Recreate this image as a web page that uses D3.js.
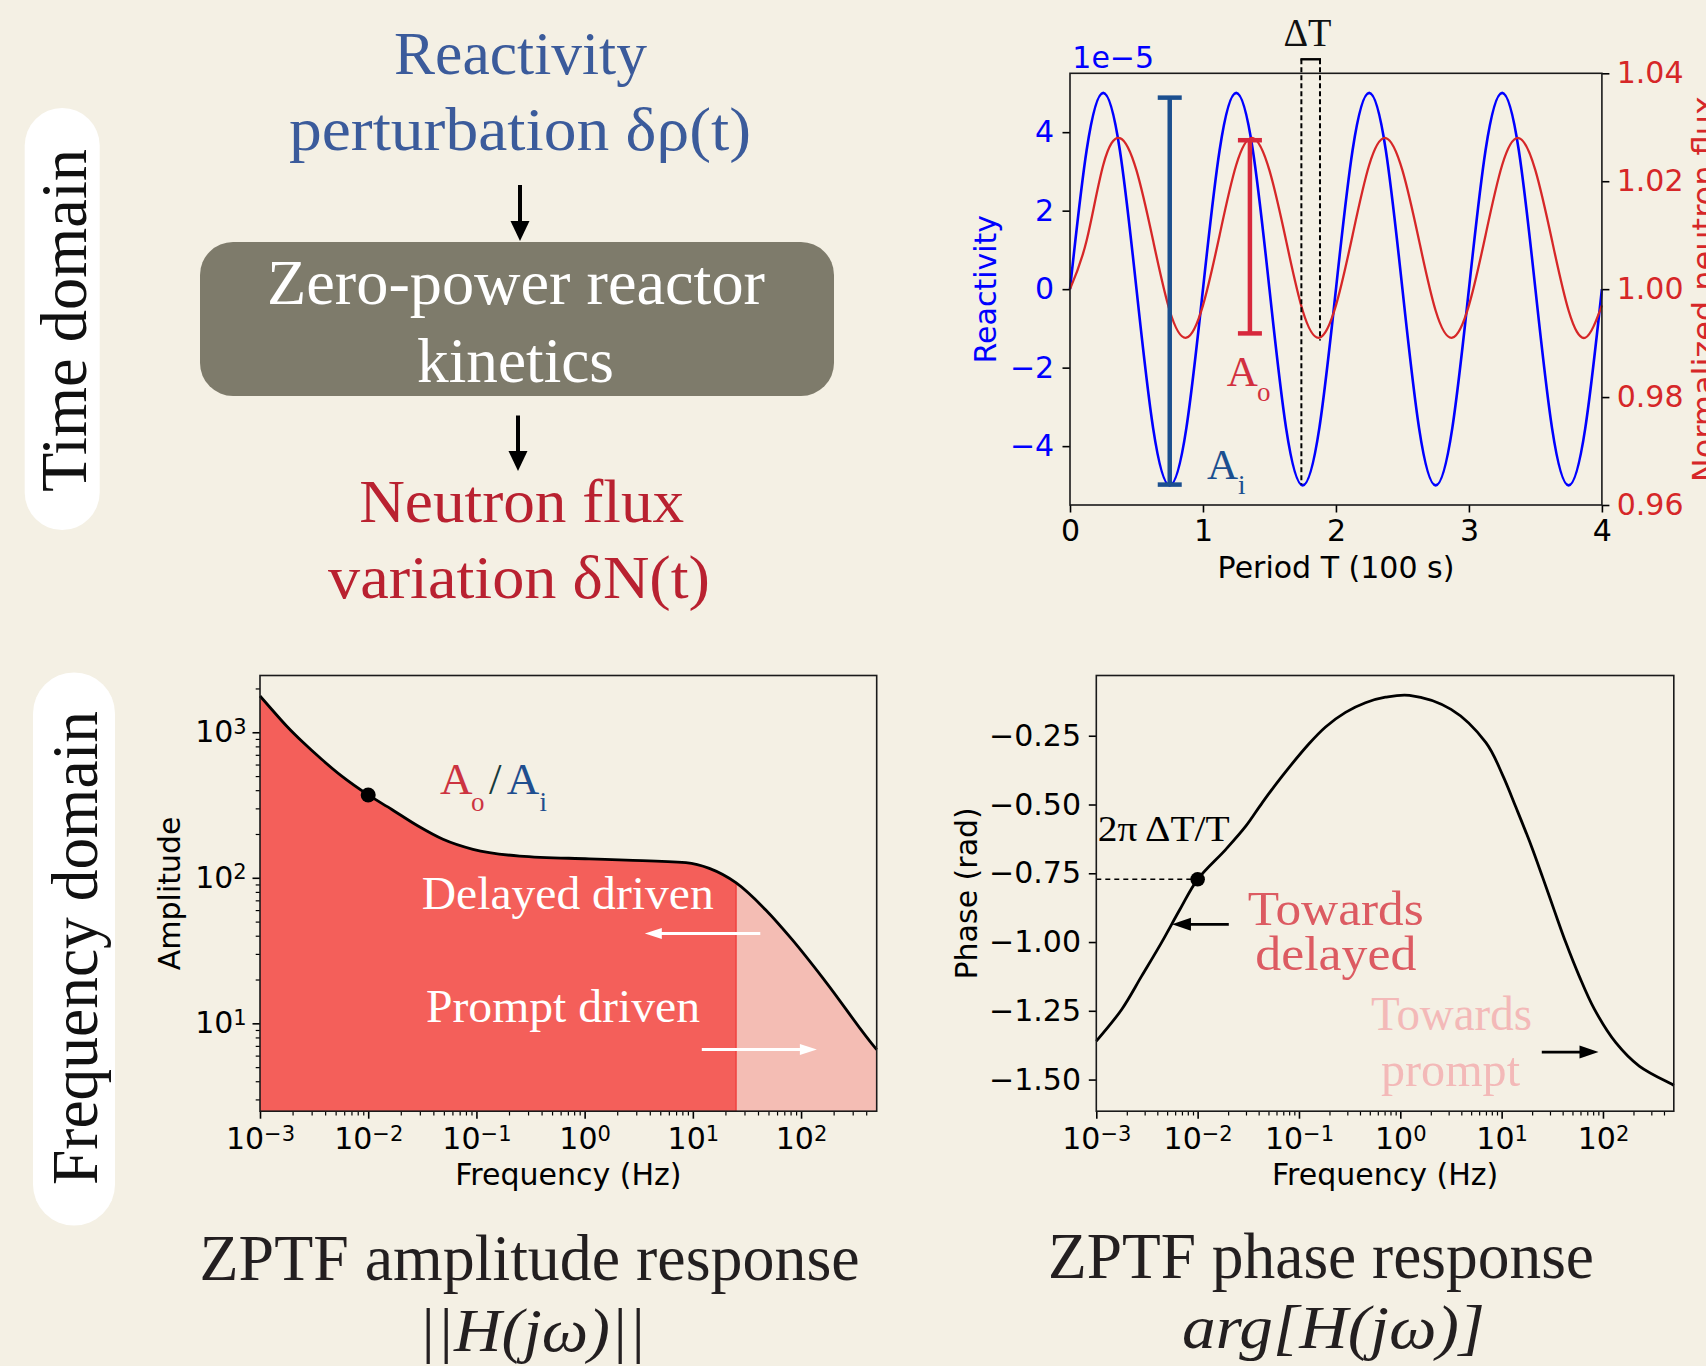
<!DOCTYPE html>
<html lang="en">
<head>
<meta charset="UTF-8">
<title>Zero-power transfer function</title>
<script src="https://cdn.jsdelivr.net/npm/d3@7"></script>
<style>
  body { margin: 0; background: #f4f0e4; }
  svg { display: block; }
  .serif { font-family: "Liberation Serif", "DejaVu Serif", serif; }
  .sans { font-family: "DejaVu Sans", sans-serif; }
</style>
</head>
<body>
<svg id="fig" width="1706" height="1366"></svg>
<script>
// ---- data ----
// time trace, period units (100 s)
const timeT = [0, 0.125, 0.25, 0.375, 0.5, 0.625, 0.75, 0.875,
               1, 1.125, 1.25, 1.375, 1.5, 1.625, 1.75, 1.875,
               2, 2.125, 2.25, 2.375, 2.5, 2.625, 2.75, 2.875,
               3, 3.125, 3.25, 3.375, 3.5, 3.625, 3.75, 3.875, 4];
// reactivity in units of 1e-5
const reactivity = [0, 3.54, 5, 3.54, 0, -3.54, -5, -3.54,
                    0, 3.54, 5, 3.54, 0, -3.54, -5, -3.54,
                    0, 3.54, 5, 3.54, 0, -3.54, -5, -3.54,
                    0, 3.54, 5, 3.54, 0, -3.54, -5, -3.54, 0];
const fluxNorm = [1.000, 1.009, 1.023, 1.028, 1.022, 1.009, 0.996, 0.991,
                  0.997, 1.010, 1.023, 1.028, 1.022, 1.009, 0.996, 0.991,
                  0.997, 1.010, 1.023, 1.028, 1.022, 1.009, 0.996, 0.991,
                  0.997, 1.010, 1.023, 1.028, 1.022, 1.009, 0.996, 0.991, 0.997];

// amplitude response
const ampFreq  = [0.001, 0.00128, 0.00176, 0.00251, 0.00371, 0.00566, 0.01, 0.0164, 0.0289, 0.0491,
                  0.0929, 0.251, 1.1, 2.42, 8.63, 14.2, 25, 47.2, 83.2, 169, 489, 500];
const ampValue = [1774, 1439, 1104, 849, 652, 501, 371, 296, 227, 184,
                  157, 141, 135, 132.4, 127, 116, 92.5, 60.1, 37.4, 19.3, 6.73, 6.6];

// phase response
const phaseFreq  = [0.001, 0.00178, 0.0028, 0.0044, 0.0067, 0.01, 0.019, 0.030, 0.0435, 0.0686,
                    0.125, 0.183, 0.288, 0.453, 0.713, 1.23, 3.17, 7.0, 10.2, 13.9,
                    19.5, 25.4, 33, 43, 58, 82, 134, 228, 484, 500];
const phaseValue = [-1.360, -1.245, -1.124, -1.002, -0.881, -0.772, -0.663, -0.578, -0.493, -0.396,
                    -0.280, -0.218, -0.165, -0.130, -0.110, -0.103, -0.154, -0.275, -0.392, -0.512,
                    -0.648, -0.765, -0.884, -1.002, -1.122, -1.243, -1.366, -1.451, -1.518, -1.521];

// ticks
const timeTicks = [0, 1, 2, 3, 4];
const reactTicks = [-4, -2, 0, 2, 4];
const fluxTicks = [0.96, 0.98, 1.00, 1.02, 1.04];
const freqTicks = [1e-3, 1e-2, 1e-1, 1, 10, 100];
const ampTicks = [10, 100, 1000];
const phaseTicks = [-1.5, -1.25, -1.0, -0.75, -0.5, -0.25];

// ---- drawing ----
const svg = d3.select("#fig");
const BLUE = "#0000ff", RED = "#d62728";
const minus = v => String(v).replace("-", "\u2212");

svg.append("rect").attr("width", 1706).attr("height", 1366).attr("fill", "#f4f0e4");

function text(g, x, y, s, o = {}) {
  const t = g.append("text").attr("x", x).attr("y", y)
    .attr("class", o.cls || "serif")
    .attr("font-size", o.size || 30)
    .attr("fill", o.fill || "#000")
    .attr("text-anchor", o.anchor || "start")
    .text(s);
  if (o.len) t.attr("textLength", o.len).attr("lengthAdjust", "spacingAndGlyphs");
  if (o.italic) t.attr("font-style", "italic");
  if (o.rot) t.attr("transform", `rotate(${o.rot},${x},${y})`);
  return t;
}

function arrow(g, x1, y1, x2, y2, col, w, hl, hw) {
  const a = Math.atan2(y2 - y1, x2 - x1), c = Math.cos(a), s = Math.sin(a);
  const bx = x2 - hl * c, by = y2 - hl * s;
  g.append("line").attr("x1", x1).attr("y1", y1).attr("x2", bx + c).attr("y2", by + s)
    .attr("stroke", col).attr("stroke-width", w);
  g.append("path")
    .attr("d", `M${x2},${y2}L${bx - hw * s},${by + hw * c}L${bx + hw * s},${by - hw * c}Z`)
    .attr("fill", col);
}

function styleAxis(g, col) {
  g.attr("font-size", 30).attr("font-family", "DejaVu Sans");
  g.select(".domain").remove();
  g.selectAll(".tick line").attr("stroke", "#000").attr("stroke-width", 1.6);
  g.selectAll(".tick text").attr("fill", col || "#000");
}

function powLabels(g) {
  g.selectAll(".tick text").each(function (d) {
    const t = d3.select(this);
    const e = Math.round(Math.log10(d));
    t.text(null);
    t.append("tspan").text("10");
    t.append("tspan").attr("dy", "-0.4em").attr("font-size", 21).text(minus(e));
  });
}

function frame(g, b) {
  g.append("rect").attr("x", b.l).attr("y", b.t).attr("width", b.r - b.l).attr("height", b.b - b.t)
    .attr("fill", "none").attr("stroke", "#1a1a1a").attr("stroke-width", 1.6);
}

// side pills
const side = svg.append("g");
side.append("rect").attr("x", 24.7).attr("y", 108).attr("width", 75).attr("height", 422)
  .attr("rx", 37.5).attr("fill", "#fff");
side.append("rect").attr("x", 33).attr("y", 672.5).attr("width", 82).attr("height", 553)
  .attr("rx", 41).attr("fill", "#fff");
text(side, 86, 320.5, "Time domain", { size: 66, anchor: "middle", rot: -90, len: 343, fill: "#111" });
text(side, 96.7, 948, "Frequency domain", { size: 66, anchor: "middle", rot: -90, len: 474, fill: "#111" });

// flow diagram
const flow = svg.append("g");
text(flow, 520.5, 74.3, "Reactivity", { size: 61, anchor: "middle", len: 253, fill: "#3b5b9b" });
text(flow, 520, 150, "perturbation \u03b4\u03c1(t)", { size: 61, anchor: "middle", len: 462, fill: "#3b5b9b" });
arrow(flow, 520, 185, 520, 241, "#000", 4, 20, 9.5);
flow.append("rect").attr("x", 200).attr("y", 242).attr("width", 634).attr("height", 154)
  .attr("rx", 33).attr("fill", "#7e7b6b");
text(flow, 516, 304, "Zero-power reactor", { size: 64, anchor: "middle", len: 498, fill: "#fff" });
text(flow, 515.5, 381.5, "kinetics", { size: 64, anchor: "middle", len: 197, fill: "#fff" });
arrow(flow, 518, 415.5, 518, 471, "#000", 4, 20, 9.5);
text(flow, 521.7, 521.5, "Neutron flux", { size: 62, anchor: "middle", len: 325, fill: "#b92130" });
text(flow, 519, 598, "variation \u03b4N(t)", { size: 62, anchor: "middle", len: 382, fill: "#b92130" });

// ---- time-domain plot ----
const tr = { l: 1070, r: 1601.9, t: 73.3, b: 505 };
const xT = d3.scaleLinear().domain([0, 4]).range([tr.l, tr.r]);
const yR = d3.scaleLinear().domain([-5.5, 5.5]).range([tr.b, tr.t]);
const yF = d3.scaleLinear().domain([0.96, 1.04]).range([tr.b, tr.t]);
const gT = svg.append("g");

const lineR = d3.line().x((d, i) => xT(timeT[i])).y(d => yR(d)).curve(d3.curveNatural);
const lineF = d3.line().x((d, i) => xT(timeT[i])).y(d => yF(d)).curve(d3.curveNatural);
gT.append("path").attr("d", lineR(reactivity)).attr("fill", "none").attr("stroke", BLUE).attr("stroke-width", 2.6);
gT.append("path").attr("d", lineF(fluxNorm)).attr("fill", "none").attr("stroke", RED).attr("stroke-width", 2.3);

gT.append("g").attr("transform", `translate(0,${tr.b})`)
  .call(d3.axisBottom(xT).tickValues(timeTicks).tickSize(7.5).tickPadding(7.2).tickFormat(d3.format("d")))
  .call(g => styleAxis(g));
gT.append("g").attr("transform", `translate(${tr.l},0)`)
  .call(d3.axisLeft(yR).tickValues(reactTicks).tickSize(7.5).tickPadding(8.3).tickFormat(minus))
  .call(g => styleAxis(g, BLUE));
gT.append("g").attr("transform", `translate(${tr.r},0)`)
  .call(d3.axisRight(yF).tickValues(fluxTicks).tickSize(7.5).tickPadding(7.3).tickFormat(d3.format(".2f")))
  .call(g => styleAxis(g, RED));
frame(gT, tr);

text(gT, 1336, 578, "Period T (100 s)", { cls: "sans", anchor: "middle" });
text(gT, 996, (tr.t + tr.b) / 2, "Reactivity", { cls: "sans", anchor: "middle", rot: -90, fill: BLUE });
text(gT, 1715, (tr.t + tr.b) / 2, "Normalized neutron flux", { cls: "sans", size: 32, anchor: "middle", rot: -90, fill: RED });
text(gT, 1072.3, 67.7, "1e\u22125", { cls: "sans", fill: BLUE });

// amplitude bars (A_i, A_o)
function errbar(x, y1, y2, col) {
  gT.append("line").attr("x1", x).attr("x2", x).attr("y1", y1).attr("y2", y2)
    .attr("stroke", col).attr("stroke-width", 4.5);
  [y1, y2].forEach(y => gT.append("line").attr("x1", x - 12).attr("x2", x + 12)
    .attr("y1", y).attr("y2", y).attr("stroke", col).attr("stroke-width", 4.5));
}
errbar(xT(0.75), yR(-4.98), yR(4.88), "#1b4f8f");
errbar(xT(1.353), yF(0.9918), yF(1.0276), "#d7283c");

// delta T bracket
const topY = yF(1.0426);
gT.append("line").attr("x1", xT(1.74)).attr("x2", xT(1.74)).attr("y1", topY).attr("y2", yR(-4.98))
  .attr("stroke", "#000").attr("stroke-width", 2).attr("stroke-dasharray", "5,3");
gT.append("line").attr("x1", xT(1.88)).attr("x2", xT(1.88)).attr("y1", topY).attr("y2", yF(0.9905))
  .attr("stroke", "#000").attr("stroke-width", 2).attr("stroke-dasharray", "5,3");
gT.append("line").attr("x1", xT(1.74) - 1).attr("x2", xT(1.88) + 1).attr("y1", topY).attr("y2", topY)
  .attr("stroke", "#000").attr("stroke-width", 2.4);
text(gT, 1307.5, 46, "\u0394T", { size: 40, anchor: "middle", len: 48, fill: "#111" });

text(gT, 1226.8, 386, "A", { size: 43, fill: "#d23040" });
text(gT, 1257, 401, "o", { size: 27, fill: "#d23040" });
text(gT, 1207, 479, "A", { size: 43, fill: "#1b4f8f" });
text(gT, 1238, 494, "i", { size: 27, fill: "#1b4f8f" });

// ---- amplitude plot ----
const bl = { l: 260, r: 876.7, t: 675.5, b: 1111.2 };
const xA = d3.scaleLog().domain([1e-3, 500]).range([bl.l, bl.r]);
const yA = d3.scaleLog().domain([2.49, 2455]).range([bl.b, bl.t]);
const gA = svg.append("g");
const ampData = ampFreq.map((f, i) => [f, ampValue[i]]);
const areaA = d3.area().x(d => xA(d[0])).y0(bl.b).y1(d => yA(d[1])).curve(d3.curveMonotoneX);
const lineA = d3.line().x(d => xA(d[0])).y(d => yA(d[1])).curve(d3.curveMonotoneX);
const split = 25;

svg.append("defs").append("clipPath").attr("id", "delayedClip")
  .append("rect").attr("x", bl.l).attr("y", bl.t).attr("width", xA(split) - bl.l).attr("height", bl.b - bl.t);
gA.append("path").attr("d", areaA(ampData)).attr("fill", "#f4bdb4");
gA.append("path").attr("d", areaA(ampData)).attr("fill", "#f45f5a").attr("clip-path", "url(#delayedClip)");
gA.append("line").attr("x1", xA(split)).attr("x2", xA(split)).attr("y1", yA(92.5)).attr("y2", bl.b)
  .attr("stroke", "#f04a46").attr("stroke-width", 1.8);
gA.append("path").attr("d", lineA(ampData)).attr("fill", "none").attr("stroke", "#000").attr("stroke-width", 2.8);
gA.append("circle").attr("cx", xA(ampFreq[6])).attr("cy", yA(ampValue[6])).attr("r", 7.5).attr("fill", "#000");

const minorF = xA.ticks().filter(v => !freqTicks.includes(v) && v < 500);
const minorA = yA.ticks().filter(v => !ampTicks.includes(v));
gA.append("g").attr("transform", `translate(0,${bl.b})`)
  .call(d3.axisBottom(xA).tickValues(minorF).tickSize(4.3).tickFormat(""))
  .call(g => styleAxis(g)).call(g => g.selectAll("line").attr("stroke-width", 1.2));
gA.append("g").attr("transform", `translate(${bl.l},0)`)
  .call(d3.axisLeft(yA).tickValues(minorA).tickSize(4.3).tickFormat(""))
  .call(g => styleAxis(g)).call(g => g.selectAll("line").attr("stroke-width", 1.2));
gA.append("g").attr("transform", `translate(0,${bl.b})`)
  .call(d3.axisBottom(xA).tickValues(freqTicks).tickSize(7.5).tickPadding(9))
  .call(g => styleAxis(g)).call(powLabels);
gA.append("g").attr("transform", `translate(${bl.l},0)`)
  .call(d3.axisLeft(yA).tickValues(ampTicks).tickSize(7.5).tickPadding(5.8))
  .call(g => styleAxis(g)).call(powLabels);
frame(gA, bl);

text(gA, (bl.l + bl.r) / 2, 1185, "Frequency (Hz)", { cls: "sans", anchor: "middle" });
text(gA, 180, (bl.t + bl.b) / 2, "Amplitude", { cls: "sans", anchor: "middle", rot: -90 });

text(gA, 440, 794.3, "A", { size: 45, fill: "#cc3340" });
text(gA, 471, 811, "o", { size: 27, fill: "#cc3340" });
text(gA, 489, 794.3, "/", { size: 45, fill: "#173b3d" });
text(gA, 506.7, 794.3, "A", { size: 45, fill: "#1f4e8f" });
text(gA, 539.5, 811, "i", { size: 27, fill: "#1f4e8f" });
text(gA, 421.7, 909.3, "Delayed driven", { size: 46, len: 292, fill: "#fff" });
text(gA, 426, 1021.7, "Prompt driven", { size: 46, len: 274, fill: "#fff" });
arrow(gA, xA(42), yA(41.5), xA(3.6), yA(41.5), "#fff", 3, 17, 5.5);
arrow(gA, xA(12.1), yA(6.6), xA(140), yA(6.6), "#fff", 3, 17, 5.5);

// ---- phase plot ----
const br = { l: 1096.3, r: 1673.8, t: 675.5, b: 1111.2 };
const xP = d3.scaleLog().domain([1e-3, 500]).range([br.l, br.r]);
const yP = d3.scaleLinear().domain([-1.615, -0.031]).range([br.b, br.t]);
const gP = svg.append("g");
const phaseData = phaseFreq.map((f, i) => [f, phaseValue[i]]);
const lineP = d3.line().x(d => xP(d[0])).y(d => yP(d[1])).curve(d3.curveCatmullRom.alpha(0.5));

gP.append("line").attr("x1", br.l).attr("x2", xP(phaseFreq[5])).attr("y1", yP(phaseValue[5])).attr("y2", yP(phaseValue[5]))
  .attr("stroke", "#000").attr("stroke-width", 1.6).attr("stroke-dasharray", "5,4");
gP.append("path").attr("d", lineP(phaseData)).attr("fill", "none").attr("stroke", "#000").attr("stroke-width", 2.8);
gP.append("circle").attr("cx", xP(phaseFreq[5])).attr("cy", yP(phaseValue[5])).attr("r", 7.3).attr("fill", "#000");

const minorP = xP.ticks().filter(v => !freqTicks.includes(v) && v < 500);
gP.append("g").attr("transform", `translate(0,${br.b})`)
  .call(d3.axisBottom(xP).tickValues(minorP).tickSize(4.3).tickFormat(""))
  .call(g => styleAxis(g)).call(g => g.selectAll("line").attr("stroke-width", 1.2));
gP.append("g").attr("transform", `translate(0,${br.b})`)
  .call(d3.axisBottom(xP).tickValues(freqTicks).tickSize(7.5).tickPadding(9))
  .call(g => styleAxis(g)).call(powLabels);
gP.append("g").attr("transform", `translate(${br.l},0)`)
  .call(d3.axisLeft(yP).tickValues(phaseTicks).tickSize(7.5).tickPadding(7.8).tickFormat(d => minus(d3.format(".2f")(d))))
  .call(g => styleAxis(g));
frame(gP, br);

text(gP, (br.l + br.r) / 2, 1185, "Frequency (Hz)", { cls: "sans", anchor: "middle" });
text(gP, 977, (br.t + br.b) / 2, "Phase (rad)", { cls: "sans", anchor: "middle", rot: -90 });

text(gP, 1097.7, 841, "2\u03c0 \u0394T/T", { size: 36, len: 132, fill: "#000" });
arrow(gP, xP(0.0203), yP(-0.9356), xP(0.00558), yP(-0.9356), "#000", 2.8, 19, 6.5);
arrow(gP, xP(24.9), yP(-1.400), xP(90.4), yP(-1.400), "#000", 2.8, 19, 6.5);
text(gP, 1247.7, 925.3, "Towards", { size: 48, len: 176, fill: "#dc5b62" });
text(gP, 1255.3, 970, "delayed", { size: 48, len: 161, fill: "#dc5b62" });
text(gP, 1371, 1030, "Towards", { size: 48, len: 161, fill: "#f3b9b8" });
text(gP, 1381, 1086, "prompt", { size: 48, len: 139, fill: "#f3b9b8" });

// ---- bottom titles ----
const gB = svg.append("g");
text(gB, 199.6, 1280, "ZPTF amplitude response", { size: 66, len: 660, fill: "#231f20" });
text(gB, 418, 1351, "||H(j\u03c9)||", { size: 62, len: 228, italic: true, fill: "#231f20" });
text(gB, 1048, 1278, "ZPTF phase response", { size: 66, len: 546, fill: "#231f20" });
text(gB, 1182, 1348, "arg[H(j\u03c9)]", { size: 62, len: 303, italic: true, fill: "#231f20" });
</script>
</body>
</html>
